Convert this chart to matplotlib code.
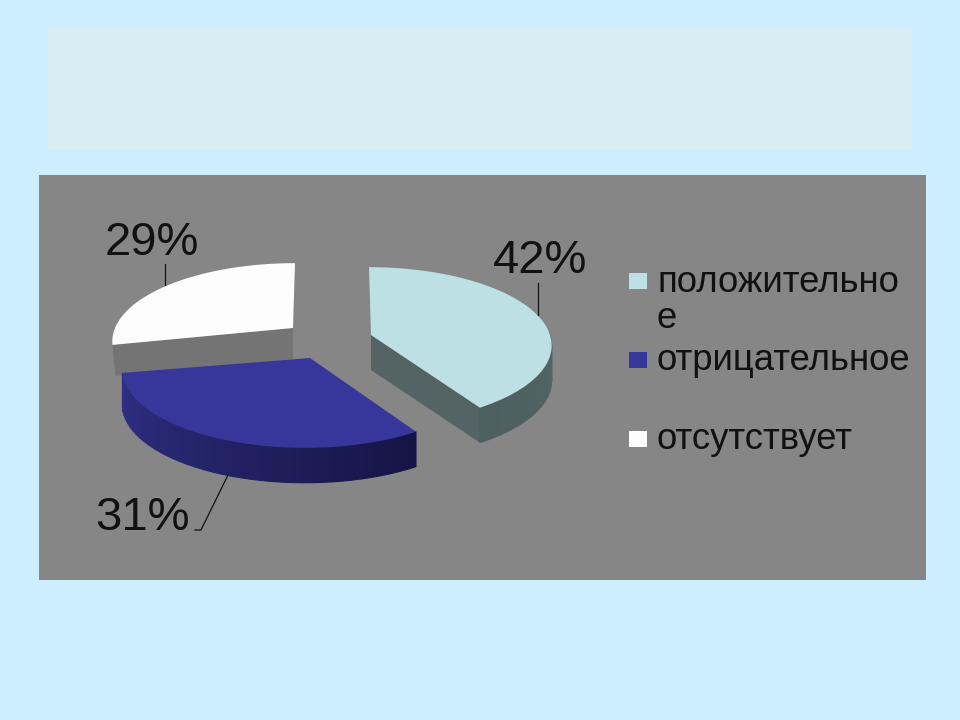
import numpy as np
import matplotlib
matplotlib.use('Agg')
import matplotlib.pyplot as plt
from matplotlib.patches import Rectangle

# Data
legend_lines = ['положительно\nе', 'отрицательное', 'отсутствует']
values = [42, 31, 29]
labels = ['42%', '31%', '29%']

colors = ['#BCE0E3', '#37379B', '#FDFDFD']
cut_colors = ['#546363', '#2B2B80', '#747474']
rim_start = [(0.36, 0.44, 0.44), (0.19, 0.19, 0.53), (0.5, 0.5, 0.5)]
rim_end = [(0.30, 0.37, 0.37), (0.08, 0.08, 0.27), (0.5, 0.5, 0.5)]

# slice tips and arc centres in pixels, pie is exploded
tips = [(371, 335), (310, 358), (293, 328)]
centres = [(369, 332), (305, 356), (295, 328)]
depths = [35, 35, 31]
rx, ry, persp = 180, 76, 0.172

plt.rcParams['font.family'] = ['Liberation Sans', 'DejaVu Sans']

fig = plt.figure(figsize=(9.6, 7.2), dpi=100, facecolor='#CCEEFF')
ax = fig.add_axes([0, 0, 1, 1])
ax.set_xlim(0, 960)
ax.set_ylim(720, 0)
ax.axis('off')

ax.add_patch(Rectangle((48, 28), 864, 122, fc='#D9EEF2', ec='none'))
ax.add_patch(Rectangle((39, 175), 887, 405, fc='#868686', ec='none'))


def project(theta, cx, cy):
    # clockwise from the back of the pie, simple perspective
    x, y = np.sin(theta), np.cos(theta)
    w = 1 + persp * y
    return cx + rx * x / w, cy - ry * y / w


edges = np.cumsum([0] + values) / sum(values) * 2 * np.pi

# back slice first so the blue one sits on top of it
for i in [2, 0, 1]:
    t = np.linspace(edges[i], edges[i + 1], 41)
    tx, ty = tips[i]
    px, py = project(t, *centres[i])
    d = depths[i]

    # flat cut face that looks to the front
    if i == 0:
        ax.fill([tx, px[-1], px[-1], tx], [ty, py[-1], py[-1] + d, ty + d],
                color=cut_colors[i], lw=0)
    if i == 2:
        ax.fill([tx, px[0], px[0] + 3, tx], [ty, py[0], py[0] + d, ty + d],
                color=cut_colors[i], lw=0)

    # outer wall, only the part facing us; the white slice shows none
    if i != 2:
        for k in range(len(t) - 1):
            if np.cos(t[k]) < 0.05:
                f = (t[k] - edges[i]) / (edges[i + 1] - edges[i])
                if i == 1:
                    f = 1 - f
                c = tuple(np.array(rim_start[i]) * (1 - f) + np.array(rim_end[i]) * f)
                ax.fill([px[k], px[k + 1], px[k + 1], px[k]],
                        [py[k], py[k + 1], py[k + 1] + d, py[k] + d],
                        fc=c, ec=c, lw=0.8)

    ax.fill(np.r_[tx, px], np.r_[ty, py], color=colors[i], lw=0)

# value labels with leader lines
ax.text(493, 273, labels[0], fontsize=34, color='#111111', ha='left', va='baseline')
ax.plot([538, 538], [283, 315], color='#111111', lw=0.9)
ax.text(95, 530, labels[1], fontsize=34, color='#111111', ha='left', va='baseline')
ax.plot([228, 201, 195], [475, 530, 530], color='#111111', lw=0.9)
ax.text(105, 255, labels[2], fontsize=34, color='#111111', ha='left', va='baseline')
ax.plot([165, 165], [264, 285], color='#111111', lw=0.9)

# legend
for sq_y, base, name, c in zip([273, 352, 431], [292, 370, 449], legend_lines, colors):
    ax.add_patch(Rectangle((629, sq_y), 18, 16, fc=c, ec='none'))
    parts = name.split('\n')
    ax.text(657, base, parts[0], fontsize=26.3, color='#111111', va='baseline')
    if len(parts) > 1:
        ax.text(657, base + 36, parts[1], fontsize=26.3, color='#111111', va='baseline')

fig.savefig('out.png', dpi=100, facecolor=fig.get_facecolor())
